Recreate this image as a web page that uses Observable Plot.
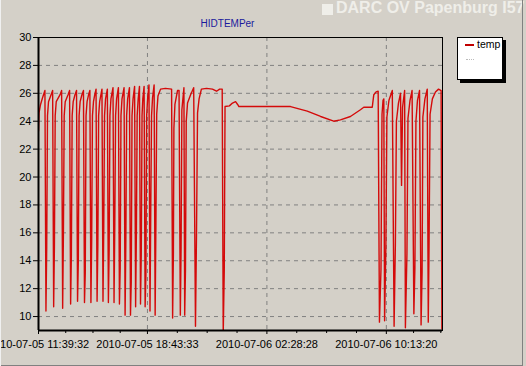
<!DOCTYPE html>
<html><head><meta charset="utf-8">
<script src="https://cdn.jsdelivr.net/npm/d3@7"></script>
<script src="https://cdn.jsdelivr.net/npm/@observablehq/plot@0.6"></script>
<style>
html,body{margin:0;padding:0;background:#d4d0c8;}
#wrap{position:relative;width:526px;height:366px;overflow:hidden;background:#d4d0c8;font-family:"Liberation Sans",Arial,sans-serif;}
#chart{position:absolute;left:0;top:0;}
.abs{position:absolute;white-space:nowrap;}
</style></head><body>
<div id="wrap">
  <div id="chart"></div>
  <div class="abs" style="left:322px;top:4px;width:11px;height:11px;background:#efeee9;"></div>
  <div class="abs" style="left:336px;top:-1px;font-size:16px;line-height:18px;font-weight:bold;color:#efeee9;">DARC OV Papenburg I57</div>
  <div class="abs" id="title" style="left:227.5px;top:17px;transform:translateX(-50%);font-size:10px;line-height:13px;color:#1a1a9c;"></div>
  <div class="abs" style="left:457px;top:37px;width:44px;height:41px;background:#fff;border:1px solid #000;box-shadow:3px 3px 0 #000;">
    <div class="abs" style="left:7px;top:6px;width:9px;height:2px;background:#c00000;"></div>
    <div class="abs" id="legtext" style="left:19px;top:0px;font-size:10.5px;line-height:13px;color:#000;"></div>
    <div class="abs" style="left:8px;top:21px;width:8px;height:0;border-top:1px dotted #bbb;"></div>
  </div>
  <div class="abs" style="left:522px;top:0;width:1px;height:366px;background:#808080;"></div>
  <div class="abs" style="left:0;top:365px;width:523px;height:1px;background:#808080;"></div>
  <div class="abs" style="left:0;top:0;width:1px;height:366px;background:#f0f0f0;"></div>
</div>
<script>
const chartTitle = "HIDTEMPer";
const seriesName = "temp";
const startTime = "2010-07-05 11:39:32";
const endTime = "2010-07-06 13:51:56";
const majorTickLabels = ["2010-07-05 11:39:32", "2010-07-05 18:43:33", "2010-07-06 02:28:28", "2010-07-06 10:13:20"];
const yTicks = [10, 12, 14, 16, 18, 20, 22, 24, 26, 28, 30];

// minutes since start
const minutes = [
0,2,8,16,25,
29,32,35,39,49,55,
59,62,65,69,84,90,
94,97,100,104,115,121,
125,128,131,135,142,148,
152,155,158,162,169,175,
179,182,185,189,195,200,
204,207,210,214,219,224,
228,231,234,238,243,247,
251,254,257,261,268,
272,275,278,282,290,
294,297,300,304,311,
315,318,321,325,333,
337,340,343,347,354,
358,361,364,368,374,
378,381,384,388,393,
397,400,403,406,411,
415,418,421,425,430,
434,437,440,444,450,
454,457,460,465,
475,494,518,522,525,527,531,541,547,552,555,558,566,569,572,575,580,592,604,611,615,619,625,634,654,677,693,705,715,719,723,726,743,755,767,775,780,
981,1046,1098,1149,1175,1214,1253,1266,1299,
1305,1314,1322,1327,1333,1337,1341,1344,1347,1352,
1356,1364,1377,1384,1389,1393,1401,1409,1413,1417,
1425,1428,1434,1438,1446,1454,1461,1465,1469,1475,
1483,1489,1493,1496,1504,1513,1517,1520,1524,1533,
1545,1557,1567,1570,1574
];
const temps = [
23.3,24.6,25.2,25.7,26.2,
10.4,15.0,24.4,25.4,25.9,26.2,
10.7,15.1,24.4,25.4,25.9,26.2,
10.6,16.0,24.4,25.4,25.9,26.2,
10.9,14.5,24.4,25.4,25.9,26.2,
11.1,14.0,24.4,25.4,25.9,26.2,
11.0,13.1,24.4,25.4,25.9,26.2,
11.0,15.5,24.4,25.4,25.9,26.3,
11.1,15.1,24.4,25.4,25.9,26.3,
11.1,16.5,24.4,25.6,26.3,
11.0,14.8,24.4,25.6,26.4,
11.0,16.7,24.4,25.6,26.4,
10.9,13.5,24.4,25.6,26.4,
10.1,15.5,24.4,25.6,26.4,
10.1,12.5,24.4,25.6,26.5,
10.7,16.0,24.4,25.6,26.5,
10.9,14.5,24.4,25.6,26.5,
10.7,13.0,24.4,25.7,26.6,
10.4,17.8,24.4,25.7,26.6,
10.1,16.7,24.5,25.8,
26.3,26.35,26.3,9.9,14.5,23.5,25.2,26.2,26.2,10.1,15.0,24.8,26.4,10.1,13.3,24.0,25.3,25.9,26.4,9.3,16.0,24.6,25.6,26.3,26.35,26.3,26.15,26.3,26.3,8.8,13.3,25.05,25.1,25.3,25.4,25.2,25.05,
25.05,24.72,24.34,24.0,24.1,24.34,24.82,25.0,25.0,
25.9,26.1,26.15,9.6,13.4,24.5,25.5,25.6,9.7,15.0,
24.3,25.5,26.2,9.3,15.2,24.0,25.3,26.0,19.4,25.0,
26.2,9.2,14.5,24.2,25.5,26.2,10.2,13.5,24.0,25.5,
26.2,9.4,13.2,24.3,25.6,26.3,9.6,15.0,24.5,25.6,
26.1,26.3,26.2,9.1,24.5
];

document.getElementById("title").textContent = chartTitle;
document.getElementById("legtext").textContent = seriesName;

const parse = d3.utcParse("%Y-%m-%d %H:%M:%S");
const fmt = d3.utcFormat("%Y-%m-%d %H:%M:%S");
const t0 = parse(startTime);
const t1 = parse(endTime);
const n = Math.min(minutes.length, temps.length);
const data = d3.range(n).map(i => ({t: new Date(+t0 + minutes[i] * 60000), v: temps[i]}));
const majors = majorTickLabels.map(parse);
const minors = [];
for (let i = 0; i < majors.length - 1; i++) {
  const a = +majors[i], b = +majors[i + 1];
  for (let k = 1; k < 4; k++) minors.push(new Date(a + (b - a) * k / 4));
}
const step = (majors[1] - majors[0]) / 4;
for (let t = +majors[majors.length - 1] + step; t <= +t1 + step * 0.1; t += step) minors.push(new Date(t));

const grid = {stroke: "#808080", strokeOpacity: 1, strokeDasharray: "4,4", strokeWidth: 1};
const chart = Plot.plot({
  width: 526, height: 366,
  marginLeft: 38, marginRight: 84, marginTop: 37, marginBottom: 36,
  style: {background: "transparent", fontFamily: "'Liberation Sans', Arial, sans-serif", fontSize: "11px", color: "#000", overflow: "visible"},
  x: {type: "utc", domain: [t0, t1]},
  y: {domain: [9, 30]},
  marks: [
    Plot.gridY(yTicks.filter(v => v < 30), grid),
    Plot.gridX(majors.slice(1), grid),
    Plot.line(data, {x: "t", y: "v", stroke: "#d40a0a", strokeWidth: 1.4, clip: true}),
    Plot.frame({stroke: "#000", strokeWidth: 1}),
    Plot.ruleX([t0], {stroke: "#000", strokeWidth: 2}),
    Plot.ruleY([9], {stroke: "#000", strokeWidth: 2}),
    Plot.axisY(yTicks, {tickSize: 5, tickPadding: 2, fontSize: 11, label: null}),
    Plot.axisX(majors, {tickSize: 4, tickPadding: 6, tickFormat: fmt, fontSize: 11, label: null}),
    Plot.axisX(minors, {tickSize: 3, tickFormat: () => "", label: null})
  ]
});
document.getElementById("chart").appendChild(chart);
</script>
</body></html>
